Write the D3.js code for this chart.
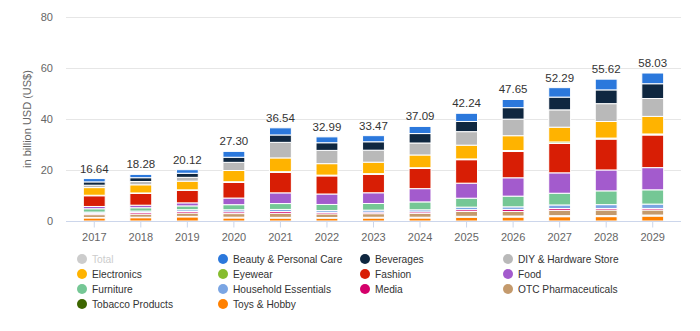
<!DOCTYPE html>
<html>
<head>
<meta charset="utf-8">
<script src="https://cdn.jsdelivr.net/npm/d3@7"></script>
<style>
  body { margin: 0; background: #fff; }
  svg { display: block; }
</style>
</head>
<body>
<svg></svg>
<script>
const years = ['2017', '2018', '2019', '2020', '2021', '2022', '2023', '2024', '2025', '2026', '2027', '2028', '2029'];
const totals = [16.64, 18.28, 20.12, 27.30, 36.54, 32.99, 33.47, 37.09, 42.24, 47.65, 52.29, 55.62, 58.03];

// segment values (billion USD)
const beauty      = [1.3, 1.3, 1.4, 2.3, 2.8, 2.3, 2.4, 2.8, 3.2, 3.2, 3.7, 4.2, 4.2];
const beverages   = [1.3, 1.5, 1.6, 2.0, 2.9, 3.0, 3.3, 3.7, 4.0, 4.5, 5.0, 5.4, 5.8];
const diy         = [0.94, 1.28, 1.5, 3.2, 6.1, 5.2, 4.7, 4.7, 5.3, 6.5, 6.8, 7.0, 7.0];
const electronics = [3.0, 3.2, 3.4, 4.4, 5.4, 4.5, 4.5, 5.0, 5.4, 5.8, 5.8, 6.5, 6.9];
const eyewear     = [0.2, 0.2, 0.2, 0.3, 0.3, 0.3, 0.3, 0.3, 0.3, 0.4, 0.6, 0.4, 0.4];
const fashion     = [4.2, 4.6, 4.9, 6.1, 8.0, 7.1, 7.2, 7.9, 9.2, 10.3, 11.5, 12.1, 12.8];
const food        = [0.9, 1.0, 1.2, 2.6, 4.2, 4.1, 4.2, 5.2, 5.9, 7.2, 8.0, 8.2, 8.7];
const furniture   = [1.3, 1.3, 1.5, 2.0, 2.3, 2.4, 2.6, 3.1, 3.5, 4.2, 4.6, 5.4, 5.6];
const household   = [0.5, 0.6, 0.7, 0.8, 0.8, 0.7, 0.8, 0.8, 1.0, 1.0, 1.4, 1.5, 1.7];
const media       = [0.5, 0.6, 0.6, 0.7, 0.7, 0.6, 0.6, 0.6, 0.7, 0.8, 0.7, 0.6, 0.6];
const otc         = [1.1, 1.2, 1.3, 1.4, 1.6, 1.4, 1.4, 1.5, 1.9, 1.8, 2.1, 2.2, 2.0];
const tobacco     = [0.2, 0.2, 0.2, 0.3, 0.3, 0.3, 0.3, 0.3, 0.4, 0.4, 0.4, 0.4, 0.4];
const toys        = [1.2, 1.3, 1.62, 1.2, 1.14, 1.09, 1.17, 1.19, 1.44, 1.55, 1.69, 1.72, 1.93];

const yTicks = [0, 20, 40, 60, 80];

// legend order; stacked top-down in this order
const series = [
  { name: 'Beauty & Personal Care', color: '#2b78dc', values: beauty },
  { name: 'Beverages', color: '#0f2740', values: beverages },
  { name: 'DIY & Hardware Store', color: '#b9b9b9', values: diy },
  { name: 'Electronics', color: '#ffb300', values: electronics },
  { name: 'Eyewear', color: '#86bc2e', values: eyewear },
  { name: 'Fashion', color: '#d81e05', values: fashion },
  { name: 'Food', color: '#a35bcd', values: food },
  { name: 'Furniture', color: '#75c795', values: furniture },
  { name: 'Household Essentials', color: '#7aa5e3', values: household },
  { name: 'Media', color: '#d4006a', values: media },
  { name: 'OTC Pharmaceuticals', color: '#c49a6c', values: otc },
  { name: 'Tobacco Products', color: '#3d6600', values: tobacco },
  { name: 'Toys & Hobby', color: '#ff8000', values: toys }
];

const WIDTH = 700;
const HEIGHT = 331;
const LEFT = 71;
const RIGHT = 676;
const TOP = 17;
const BOTTOM = 221;
const FONT = '"Liberation Sans", Arial, sans-serif';

const svg = d3.select('svg')
  .attr('width', WIDTH)
  .attr('height', HEIGHT)
  .attr('font-family', FONT);

const xScale = d3.scaleBand()
  .domain(years)
  .range([LEFT, RIGHT])
  .paddingInner(0.53)
  .paddingOuter(0.265);

const yScale = d3.scaleLinear()
  .domain([0, 80])
  .range([BOTTOM, TOP]);

// grid
svg.append('g')
  .selectAll('line')
  .data(yTicks.slice(1))
  .enter()
  .append('line')
  .attr('x1', 66)
  .attr('x2', 681)
  .attr('y1', d => Math.round(yScale(d)) + 0.5)
  .attr('y2', d => Math.round(yScale(d)) + 0.5)
  .attr('stroke', '#e6e6e6');

// y axis
const yAxis = d3.axisLeft(yScale).tickValues(yTicks).tickSize(0).tickPadding(0);
const yG = svg.append('g')
  .attr('transform', 'translate(53,0)')
  .call(yAxis);
yG.select('.domain').remove();
yG.selectAll('text')
  .attr('font-family', FONT)
  .attr('font-size', 11)
  .attr('fill', '#666');

svg.append('text')
  .text('in billion USD (US$)')
  .attr('transform', `translate(31, ${(TOP + BOTTOM) / 2}) rotate(-90)`)
  .attr('text-anchor', 'middle')
  .attr('font-size', 11)
  .attr('fill', '#666');

// stacked bars
const keys = series.map(s => s.name).reverse();
const rows = years.map((y, i) => {
  const row = { year: y };
  series.forEach(s => { row[s.name] = s.values[i]; });
  return row;
});
const stacked = d3.stack().keys(keys)(rows);
const colorOf = d3.scaleOrdinal()
  .domain(series.map(s => s.name))
  .range(series.map(s => s.color));

svg.append('g')
  .selectAll('g')
  .data(stacked)
  .enter()
  .append('g')
  .attr('fill', d => colorOf(d.key))
  .selectAll('rect')
  .data(d => d)
  .enter()
  .append('rect')
  .attr('x', d => xScale(d.data.year))
  .attr('y', d => yScale(d[1]))
  .attr('width', xScale.bandwidth())
  .attr('height', d => yScale(d[0]) - yScale(d[1]))
  .attr('stroke', '#fff')
  .attr('stroke-width', 1);

// x axis
const xAxis = d3.axisBottom(xScale).tickSize(6).tickPadding(6);
const xG = svg.append('g')
  .attr('transform', `translate(0, ${BOTTOM + 0.5})`)
  .call(xAxis);
xG.select('.domain')
  .attr('d', `M66,0H681`)
  .attr('stroke', '#ccd6eb');
xG.selectAll('.tick line').attr('stroke', '#ccd6eb');
xG.selectAll('text')
  .attr('font-family', FONT)
  .attr('font-size', 11)
  .attr('fill', '#666');

// total labels
svg.append('g')
  .selectAll('text')
  .data(totals)
  .enter()
  .append('text')
  .attr('x', (d, i) => xScale(years[i]) + xScale.bandwidth() / 2)
  .attr('y', d => yScale(d) - 6)
  .attr('text-anchor', 'middle')
  .attr('font-size', 11.5)
  .attr('fill', '#333')
  .text(d => d.toFixed(2));

// legend
const legendItems = [{ name: 'Total', color: '#cccccc', hidden: true }].concat(series);
const colX = [82, 223, 365, 508];
const rowY = [259, 274, 289, 304];
const legend = svg.append('g')
  .selectAll('g')
  .data(legendItems)
  .enter()
  .append('g')
  .attr('transform', (d, i) => `translate(${colX[i % 4]}, ${rowY[Math.floor(i / 4)]})`);

legend.append('circle')
  .attr('r', 5)
  .attr('fill', d => d.color);

legend.append('text')
  .attr('x', 10)
  .attr('dy', '0.35em')
  .attr('font-size', 10.2)
  .attr('fill', d => d.hidden ? '#ccc' : '#333')
  .text(d => d.name);
</script>
</body>
</html>
